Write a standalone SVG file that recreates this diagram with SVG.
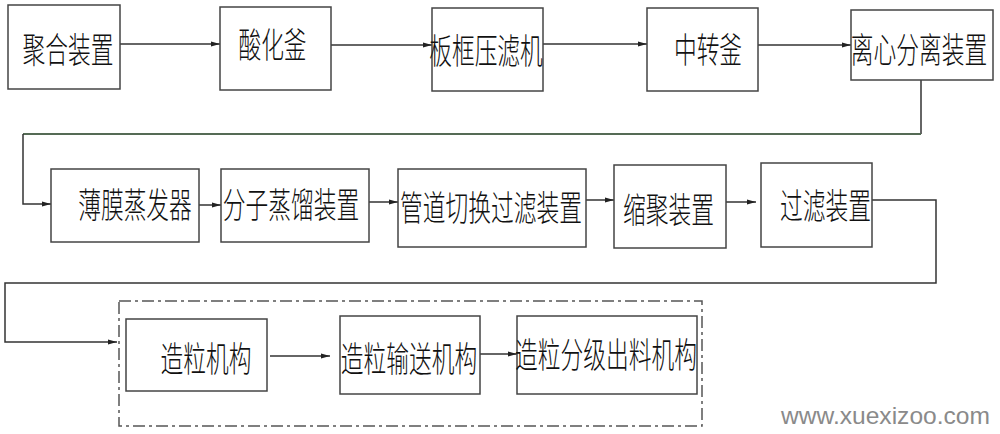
<svg xmlns="http://www.w3.org/2000/svg" width="1000" height="434" viewBox="0 0 1000 434">
<style>
.box{fill:#fff;stroke:#444;stroke-width:1.5}
.lbl{font-family:"Noto Sans CJK SC","Liberation Sans",sans-serif;font-size:35px;fill:#111;text-anchor:middle;dominant-baseline:central;font-weight:300}
.con{fill:none;stroke:#333;stroke-width:1.5}
.green{stroke:#556b55;stroke-width:2}
.dash{fill:none;stroke:#555;stroke-width:1.5;stroke-dasharray:12 4 3 4}
.wm{font-family:"Liberation Sans",Arial,sans-serif;font-size:24.5px;fill:#8a8a8a}
</style>
<defs>
<marker id="arr" markerUnits="userSpaceOnUse" markerWidth="9" markerHeight="6" refX="9" refY="3" orient="auto">
<path d="M0,0.5 L9,3 L0,5.5 z" fill="#222"/>
</marker>
</defs>
<rect width="1000" height="434" fill="#fff"/>
<rect class="dash" x="119" y="301" width="583" height="125"/>
<g id="connectors">
<path class="con" d="M120,44 H220" marker-end="url(#arr)"/>
<path class="con" d="M331,45 H432" marker-end="url(#arr)"/>
<path class="con" d="M543,44 H647" marker-end="url(#arr)"/>
<path class="con" d="M758,45 H851" marker-end="url(#arr)"/>
<path class="con" d="M921,80 V134"/>
<path class="con green" d="M921,134 H23"/>
<path class="con" d="M23,134 V204 H51" marker-end="url(#arr)"/>
<path class="con" d="M199,205 H221" marker-end="url(#arr)"/>
<path class="con" d="M369,202 H398" marker-end="url(#arr)"/>
<path class="con" d="M586,200 H614" marker-end="url(#arr)"/>
<path class="con" d="M726,202 H756" marker-end="url(#arr)"/>
<path class="con" d="M872,200 H936 V283 H5 V342 H117" marker-end="url(#arr)"/>
<path class="con" d="M270,356 H330" marker-end="url(#arr)"/>
<path class="con" d="M480,354 H517" marker-end="url(#arr)"/>
</g>
<g id="n1"><rect class="box" x="8" y="5" width="112" height="84"/><text class="lbl" transform="translate(68,48) scale(0.65,1)">聚合装置</text></g>
<g id="n2"><rect class="box" x="220" y="7" width="111" height="83"/><text class="lbl" transform="translate(272.5,43) scale(0.65,1)">酸化釜</text></g>
<g id="n3"><rect class="box" x="432" y="8" width="111" height="83"/><text class="lbl" transform="translate(486,49) scale(0.65,1)">板框压滤机</text></g>
<g id="n4"><rect class="box" x="647" y="8" width="111" height="83"/><text class="lbl" transform="translate(708,48) scale(0.65,1)">中转釜</text></g>
<g id="n5"><rect class="box" x="851" y="10" width="142" height="70"/><text class="lbl" transform="translate(919,48) scale(0.65,1)">离心分离装置</text></g>
<g id="n6"><rect class="box" x="51" y="169" width="148" height="73"/><text class="lbl" transform="translate(135,203) scale(0.65,1)">薄膜蒸发器</text></g>
<g id="n7"><rect class="box" x="221" y="169" width="148" height="73"/><text class="lbl" transform="translate(291,203) scale(0.65,1)">分子蒸馏装置</text></g>
<g id="n8"><rect class="box" x="398" y="169" width="188" height="78"/><text class="lbl" transform="translate(491,205.5) scale(0.65,1)">管道切换过滤装置</text></g>
<g id="n9"><rect class="box" x="614" y="165" width="112" height="83"/><text class="lbl" transform="translate(668.5,207.5) scale(0.65,1)">缩聚装置</text></g>
<g id="n10"><rect class="box" x="761" y="163" width="111" height="84"/><text class="lbl" transform="translate(825.5,203.5) scale(0.65,1)">过滤装置</text></g>
<g id="n11"><rect class="box" x="126" y="319" width="141" height="72"/><text class="lbl" transform="translate(206,357) scale(0.65,1)">造粒机构</text></g>
<g id="n12"><rect class="box" x="340" y="316" width="140" height="78"/><text class="lbl" transform="translate(409,357) scale(0.65,1)">造粒输送机构</text></g>
<g id="n13"><rect class="box" x="517" y="316" width="180" height="78"/><text class="lbl" transform="translate(606,352.5) scale(0.65,1)">造粒分级出料机构</text></g>
<text class="wm" x="781" y="424" textLength="209" lengthAdjust="spacingAndGlyphs">www.xuexizoo.com</text>
</svg>
